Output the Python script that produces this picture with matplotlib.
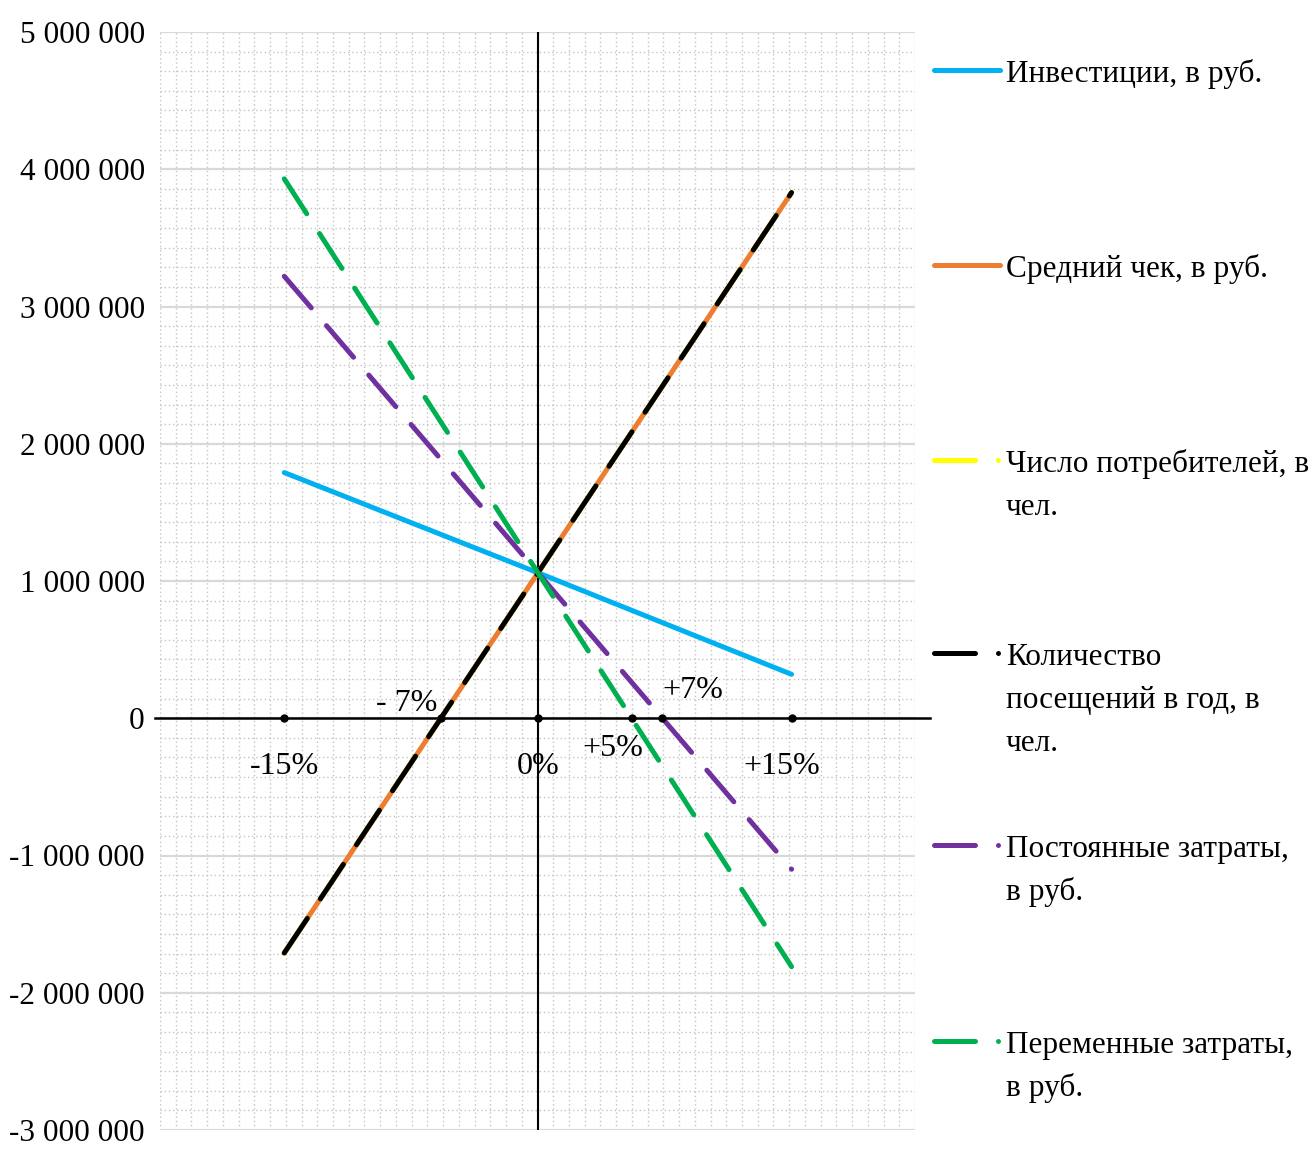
import numpy as np
import matplotlib.pyplot as plt
from matplotlib.lines import Line2D
from matplotlib.ticker import FixedLocator, FuncFormatter

plt.rcParams['font.family'] = ['Liberation Serif', 'DejaVu Serif']

# change of the factor, %
changes = [-15, 0, 15]

# NPV, rub
investments = [1790000, 1060000, 320000]
avg_check = [-1710000, 1060000, 3830000]
consumers = [-1710000, 1060000, 3830000]
visits = [-1710000, 1060000, 3830000]
fixed_costs = [3220000, 1060000, -1100000]
variable_costs = [3930000, 1060000, -1810000]

names = ["Инвестиции, в руб.",
         "Средний чек, в руб.",
         "Число потребителей, в\nчел.",
         "Количество\nпосещений в год, в\nчел.",
         "Постоянные затраты,\nв руб.",
         "Переменные затраты,\nв руб."]
colors = ["#00B0F0", "#ED7D31", "#FFFF00", "#000000", "#7030A0", "#00B050"]
dashed = [False, False, True, True, True, True]

axis_labels = ["-15%", "0%", "+15%"]
cross_labels = ["- 7%", "+5%", "+7%"]

W, H = 1313, 1151
fig = plt.figure(figsize=(W / 100, H / 100), dpi=100)
ax = fig.add_axes([160 / W, 1 - 1130 / H, 755 / W, 1098 / H])

xmin, xmax = -22.35, 22.3
ax.set_xlim(xmin, xmax)
ax.set_ylim(-3000000, 5000000)

# grid
ax.yaxis.set_major_locator(FixedLocator(np.arange(-3000000, 5000001, 1000000)))
ax.yaxis.set_minor_locator(FixedLocator(np.linspace(-3000000, 5000000, 8 * 7 + 1)))
ax.xaxis.set_major_locator(FixedLocator([]))
ax.xaxis.set_minor_locator(FixedLocator(np.linspace(xmin, xmax, 49)))
ax.grid(which='minor', color='#c4c4c4', linestyle=(0, (1, 2)), linewidth=1.0)
ax.grid(which='major', axis='y', color='#d9d9d9', linewidth=1.6)
ax.set_axisbelow(True)
for s in ax.spines.values():
    s.set_visible(False)
ax.tick_params(which='both', length=0)
ax.tick_params(axis='y', labelsize=22.5, pad=11)
ax.yaxis.set_major_formatter(FuncFormatter(lambda v, p: f"{int(v):,}".replace(",", " ")))
ax.set_xticklabels([])

# axes through zero
ax.axvline(0, color='black', lw=1.5, zorder=2)
ax.axhline(0, xmin=-0.007, xmax=1.02, color='black', lw=1.8, clip_on=False, zorder=2)

data = [investments, avg_check, consumers, visits, fixed_costs, variable_costs]
for vals, c, d in zip(data, colors, dashed):
    kw = dict(color=c, lw=3.6, solid_capstyle='round', dash_capstyle='round', zorder=3)
    if d:
        ax.plot(changes, vals, dashes=(8.3, 4.7), **kw)
    else:
        ax.plot(changes, vals, **kw)

# points on the x axis: range ends, base and zero crossings
cross = []
for vals in [avg_check, variable_costs, fixed_costs]:
    cross.append(np.interp(0, sorted(vals), np.array(changes)[np.argsort(vals)]))
pts = sorted(changes + cross)
ax.plot(pts, np.zeros(len(pts)), 'o', color='black', ms=5, zorder=5, clip_on=False)

label_shift = [0, 0, -0.6]
for x, t, sh in zip(changes, axis_labels, label_shift):
    ax.text(x + sh, -350000, t, ha='center', va='center', fontsize=23)
ax.text(cross[0] - 2.0, 110000, cross_labels[0], ha='center', va='center', fontsize=23)
ax.text(cross[1] - 1.1, -220000, cross_labels[1], ha='center', va='center', fontsize=23)
ax.text(cross[2] + 1.8, 200000, cross_labels[2], ha='center', va='center', fontsize=23)

# legend, Excel-like
first_base = [82, 277, 472, 665, 857, 1053]
for i, (nm, c, d) in enumerate(zip(names, colors, dashed)):
    yb = first_base[i]
    yl = 1 - (yb - 12) / H
    if d:
        fig.add_artist(Line2D([934 / W, 975 / W], [yl, yl], color=c, lw=3.6,
                              solid_capstyle='round'))
        fig.add_artist(Line2D([998 / W], [yl], marker='o', ms=2.5, color=c, lw=0))
    else:
        fig.add_artist(Line2D([934 / W, 1000 / W], [yl, yl], color=c, lw=3.6,
                              solid_capstyle='round'))
    for j, line in enumerate(nm.split("\n")):
        fig.text(1006 / W, 1 - (yb + 43 * j) / H, line, ha='left', va='baseline', fontsize=22.5)

fig.savefig("out.png", dpi=100)
